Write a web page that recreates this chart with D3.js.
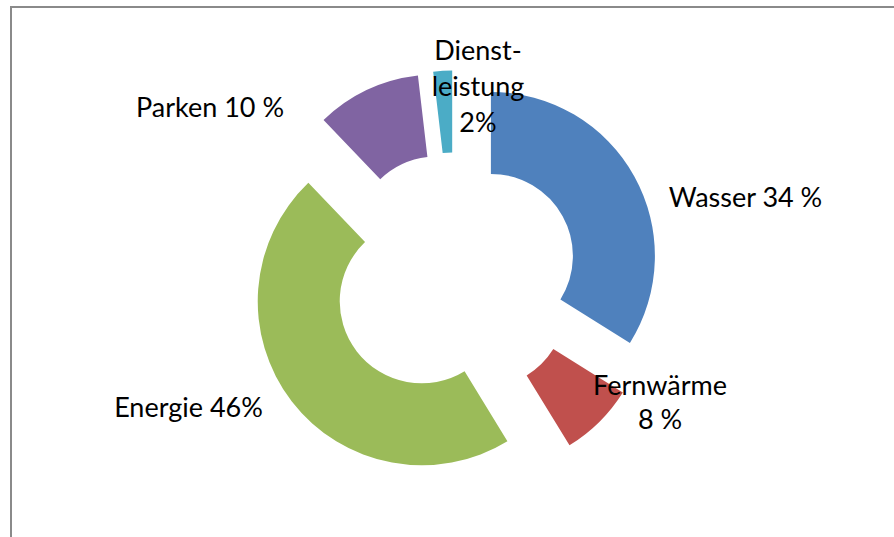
<!DOCTYPE html>
<html>
<head>
<meta charset="utf-8">
<script src="https://cdn.jsdelivr.net/npm/d3@7"></script>
<style>
  html, body { margin: 0; padding: 0; background: #ffffff; }
  svg { display: block; }
</style>
</head>
<body>
<script>
// ---- data ----
const categories = ["Wasser", "Fernwärme", "Energie", "Parken", "Dienstleistung"];
const values = [33.9, 7.35, 46.6, 10.3, 1.85];
const labelLines = [
  ["Wasser 34 %"],
  ["Fernwärme", "8 %"],
  ["Energie 46%"],
  ["Parken 10 %"],
  ["Dienst-", "leistung", "2%"]
];
const colors = ["#4F81BD", "#C0504D", "#9BBB59", "#8064A2", "#4BACC6"];

// ---- layout ----
const W = 894, H = 537;
const cx = 454.6, cy = 276;
const outerR = 164, innerR = 82, explode = 41.5;
const fontSize = 27;
// label anchor (x = centre of text block, y = first baseline), line spacing
const labelLayout = [
  { x: 745.5, y: 206.5, dy: 34 },
  { x: 660, y: 395, dy: 34 },
  { x: 188.5, y: 417, dy: 34 },
  { x: 210, y: 117, dy: 34 },
  { x: 478, y: 59.5, dy: 36 }
];

const svg = d3.select("body").append("svg")
  .attr("width", W).attr("height", H);

svg.append("rect").attr("width", W).attr("height", H).attr("fill", "#ffffff");

// frame (only top and left visible)
svg.append("path")
  .attr("d", `M11,${H + 2} L11,7 L${W + 2},7`)
  .attr("fill", "none")
  .attr("stroke", "#8a8a8a")
  .attr("stroke-width", 2);

const pie = d3.pie().sort(null).value(d => d)(values);
const arc = d3.arc().innerRadius(innerR).outerRadius(outerR);

const g = svg.append("g").attr("transform", `translate(${cx},${cy})`);
g.selectAll("path.slice").data(pie).join("path")
  .attr("class", "slice")
  .attr("d", arc)
  .attr("fill", (d, i) => colors[i])
  .attr("transform", d => {
    const a = (d.startAngle + d.endAngle) / 2;
    return `translate(${Math.sin(a) * explode},${-Math.cos(a) * explode})`;
  });

const labels = svg.append("g")
  .attr("font-family", "Lato, 'Noto Sans', sans-serif")
  .attr("font-size", fontSize)
  .attr("fill", "#000000")
  .attr("text-anchor", "middle");

labelLines.forEach((lines, i) => {
  const L = labelLayout[i];
  const t = labels.append("text").attr("x", L.x).attr("y", L.y);
  lines.forEach((line, j) => {
    t.append("tspan").attr("x", L.x).attr("dy", j === 0 ? 0 : L.dy).text(line);
  });
});
</script>
</body>
</html>
